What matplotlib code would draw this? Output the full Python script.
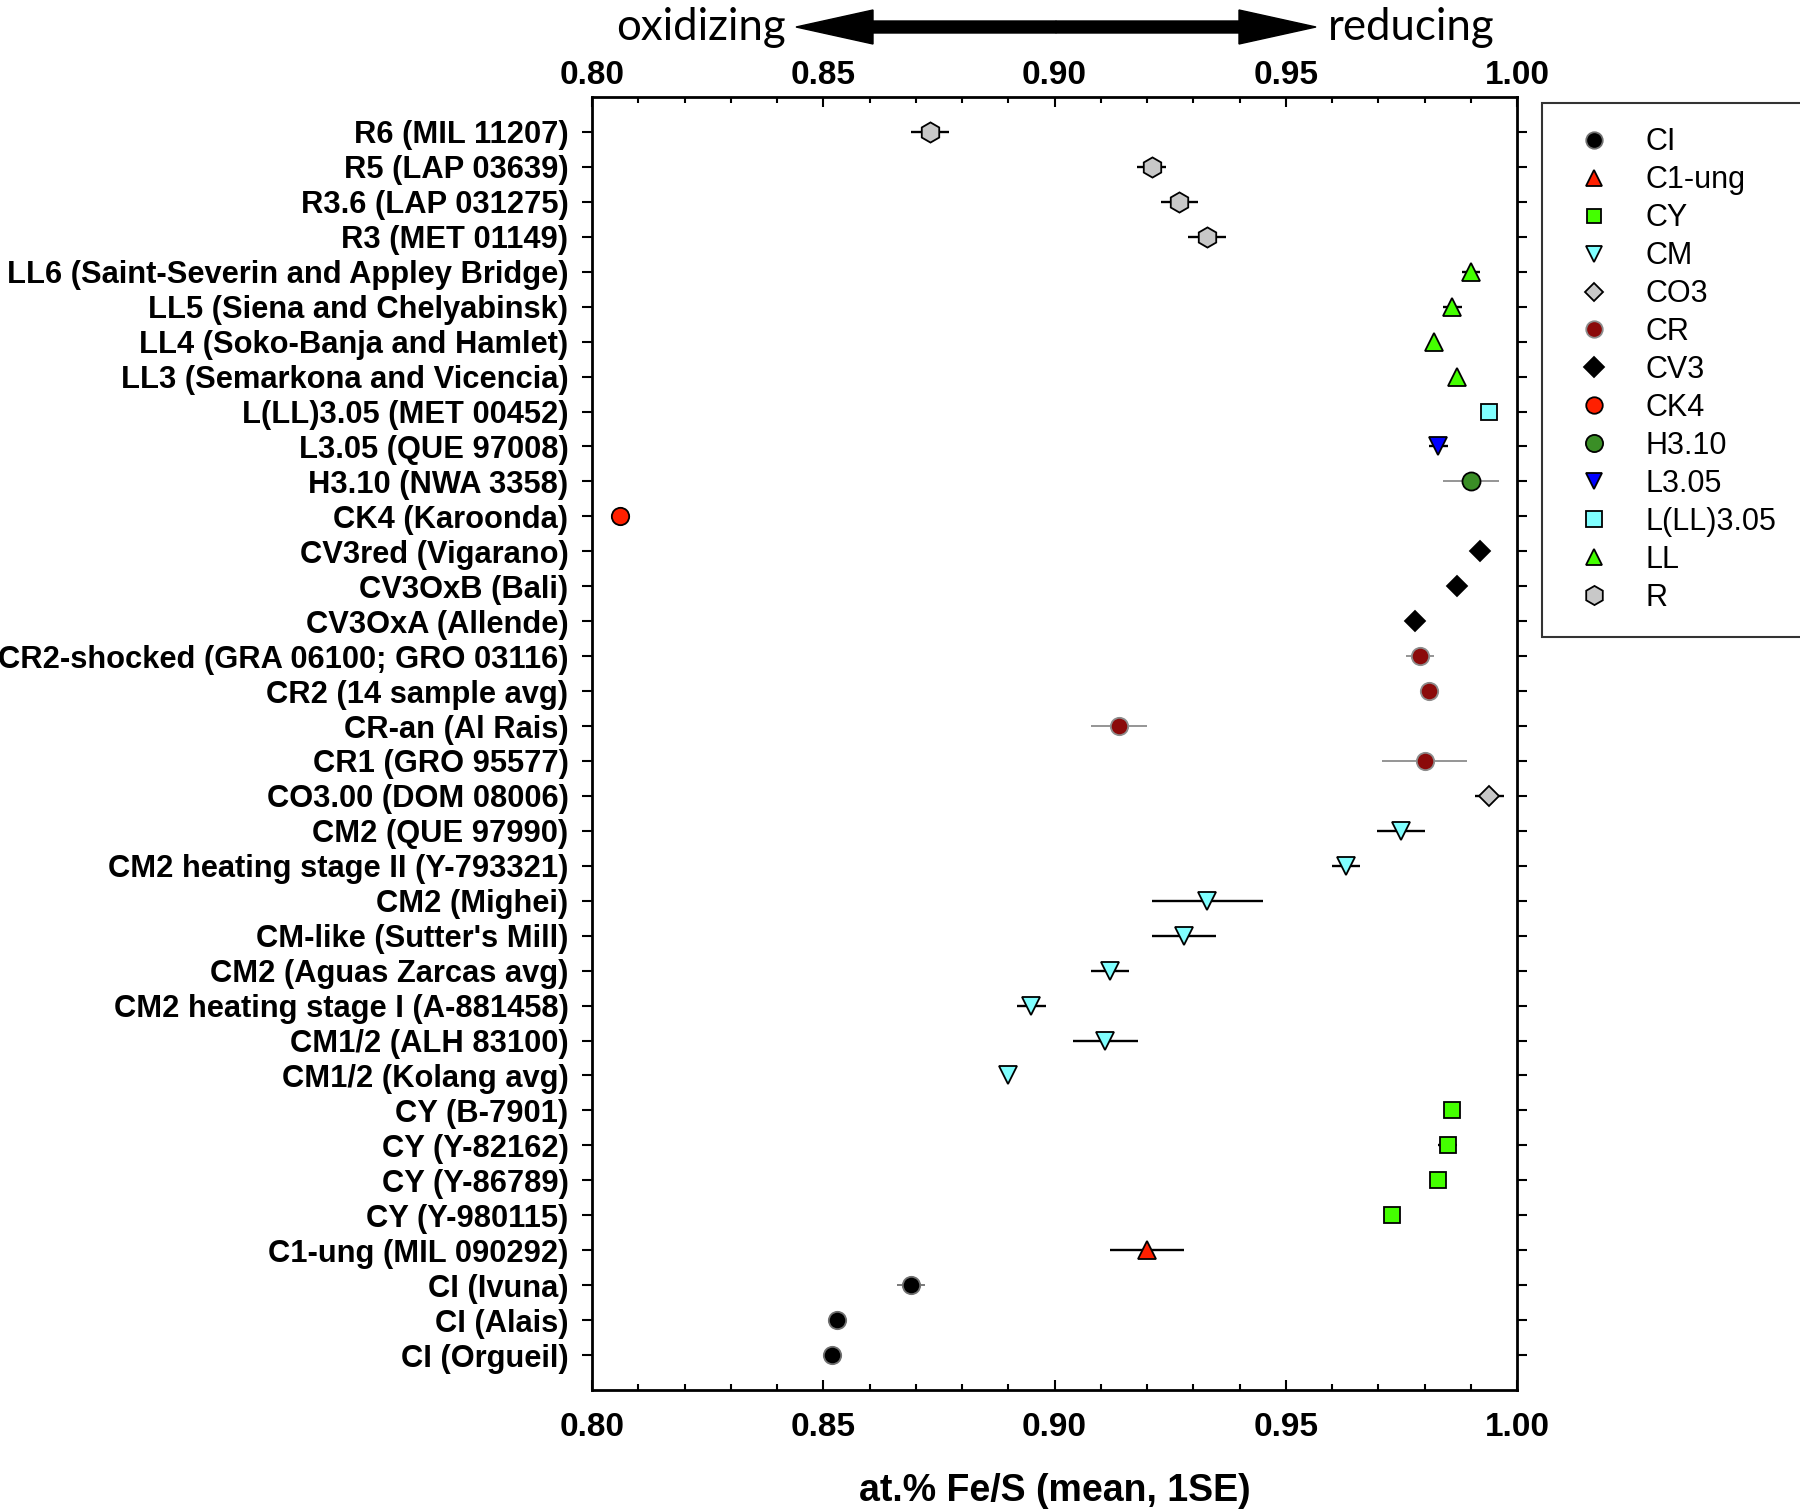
import numpy as np
import matplotlib
matplotlib.use("Agg")
import matplotlib.pyplot as plt
from matplotlib.patches import FancyArrow
from matplotlib.ticker import MultipleLocator

plt.rcParams['font.family'] = ['Liberation Sans', 'DejaVu Sans']

# -- data: one row per meteorite, listed top to bottom --
labels = [
    "R6 (MIL 11207)", "R5 (LAP 03639)", "R3.6 (LAP 031275)", "R3 (MET 01149)",
    "LL6 (Saint-Severin and Appley Bridge)", "LL5 (Siena and Chelyabinsk)",
    "LL4 (Soko-Banja and Hamlet)", "LL3 (Semarkona and Vicencia)",
    "L(LL)3.05 (MET 00452)", "L3.05 (QUE 97008)", "H3.10 (NWA 3358)",
    "CK4 (Karoonda)", "CV3red (Vigarano)", "CV3OxB (Bali)", "CV3OxA (Allende)",
    "CR2-shocked (GRA 06100; GRO 03116)", "CR2 (14 sample avg)", "CR-an (Al Rais)",
    "CR1 (GRO 95577)", "CO3.00 (DOM 08006)", "CM2 (QUE 97990)",
    "CM2 heating stage II (Y-793321)", "CM2 (Mighei)", "CM-like (Sutter's Mill)",
    "CM2 (Aguas Zarcas avg)", "CM2 heating stage I (A-881458)", "CM1/2 (ALH 83100)",
    "CM1/2 (Kolang avg)", "CY (B-7901)", "CY (Y-82162)", "CY (Y-86789)",
    "CY (Y-980115)", "C1-ung (MIL 090292)", "CI (Ivuna)", "CI (Alais)", "CI (Orgueil)",
]
fe_s = [
    0.873, 0.921, 0.927, 0.933,
    0.990, 0.986, 0.982, 0.987,
    0.994, 0.983, 0.990,
    0.806, 0.992, 0.987, 0.978,
    0.979, 0.981, 0.914, 0.980, 0.994,
    0.975, 0.963, 0.933, 0.928, 0.912, 0.895, 0.911, 0.890,
    0.986, 0.985, 0.983, 0.973,
    0.920, 0.869, 0.853, 0.852,
]
fe_s_se = [
    0.0041, 0.0031, 0.0040, 0.0041,
    0.0020, 0.0020, 0.0, 0.0,
    0.0, 0.0020, 0.0061,
    0.0, 0.0, 0.0, 0.0,
    0.0031, 0.0, 0.0061, 0.0091, 0.0031,
    0.0052, 0.0030, 0.0120, 0.0070, 0.0041, 0.0032, 0.0071, 0.0,
    0.0, 0.0020, 0.0, 0.0,
    0.0081, 0.0030, 0.0, 0.0,
]
groups = [
    "R", "R", "R", "R",
    "LL", "LL", "LL", "LL",
    "L(LL)3.05", "L3.05", "H3.10",
    "CK4", "CV3", "CV3", "CV3",
    "CR", "CR", "CR", "CR", "CO3",
    "CM", "CM", "CM", "CM", "CM", "CM", "CM", "CM",
    "CY", "CY", "CY", "CY",
    "C1-ung", "CI", "CI", "CI",
]
legend_order = ["CI", "C1-ung", "CY", "CM", "CO3", "CR", "CV3", "CK4",
                "H3.10", "L3.05", "L(LL)3.05", "LL", "R"]
xticks = [0.80, 0.85, 0.90, 0.95, 1.00]
xticklabels = ["0.80", "0.85", "0.90", "0.95", "1.00"]

# marker, face, edge, marker size, error bar colour
styles = {
    "CI":        ("o", "#000000", "#707070", 12.5, "#707070"),
    "C1-ung":    ("^", "#ff2000", "#000000", 12.5, "#000000"),
    "CY":        ("s", "#44ff00", "#000000", 11,   "#000000"),
    "CM":        ("v", "#80ffff", "#000000", 12.5, "#000000"),
    "CO3":       ("D", "#c8c8c8", "#000000", 10,   "#000000"),
    "CR":        ("o", "#8b0a0a", "#8c8c8c", 12.5, "#8c8c8c"),
    "CV3":       ("D", "#000000", "#000000", 10.5, "#000000"),
    "CK4":       ("o", "#ff2000", "#000000", 12.5, "#000000"),
    "H3.10":     ("o", "#3a8e26", "#000000", 13,   "#8c8c8c"),
    "L3.05":     ("v", "#0000ff", "#000000", 12.5, "#000000"),
    "L(LL)3.05": ("s", "#80ffff", "#000000", 11.5, "#000000"),
    "LL":        ("^", "#44ff00", "#000000", 12.5, "#000000"),
    "R":         ("h", "#c8c8c8", "#000000", 14.5, "#000000"),
}

n = len(labels)
ypos = np.arange(n, 0, -1)
fe_s = np.array(fe_s)
fe_s_se = np.array(fe_s_se)
groups = np.array(groups)

fig = plt.figure(figsize=(18, 15.09), dpi=100)
ax = fig.add_axes([592 / 1800, 119 / 1509, 925 / 1800, 1293 / 1509])

handles = []
for g in legend_order:
    m, fc, ec, ms, ecol = styles[g]
    sel = groups == g
    has_err = sel & (fe_s_se > 0)
    if has_err.any():
        ax.errorbar(fe_s[has_err], ypos[has_err], xerr=fe_s_se[has_err], fmt="none",
                    ecolor=ecol, elinewidth=1.7 if ecol == "#000000" else 1.3,
                    capsize=0, zorder=2)
    h, = ax.plot(fe_s[sel], ypos[sel], linestyle="none", marker=m, markersize=ms,
                 markerfacecolor=fc, markeredgecolor=ec, markeredgewidth=1.3,
                 label=g, zorder=3)
    handles.append(h)

ax.set_xlim(0.80, 1.00)
ax.set_ylim(0, n + 1)
ax.set_yticks(ypos)
ax.set_yticklabels(labels, fontsize=22.2, fontweight="bold")

ax.xaxis.set_minor_locator(MultipleLocator(0.01))
ax.set_xticks(xticks)
ax.set_xticklabels(xticklabels, fontsize=24, fontweight="bold")

ax.tick_params(axis="x", which="both", direction="in", top=True, bottom=True,
               labeltop=False, labelbottom=True, width=1.5, pad=15.5)
ax.tick_params(axis="x", which="major", length=7.5)
ax.tick_params(axis="x", which="minor", length=4.5)
ax.tick_params(axis="y", direction="out", left=True, right=True, length=7,
               width=1.5, pad=10)
for sp in ax.spines.values():
    sp.set_linewidth(2)

# top tick labels on their own axis so they can sit closer to the frame
secax = ax.secondary_xaxis("top")
secax.set_xticks(xticks)
secax.set_xticklabels(xticklabels, fontsize=24, fontweight="bold")
secax.tick_params(axis="x", length=0, pad=4.5)
secax.spines["top"].set_visible(False)

ax.set_xlabel("at.% Fe/S (mean, 1SE)", fontsize=27, fontweight="bold", labelpad=22)

leg = ax.legend(handles=handles, loc="upper left",
                bbox_to_anchor=(1542 / 1800, 1 - 103 / 1509, 0.16, 0.0),
                bbox_transform=fig.transFigure, mode="expand", borderaxespad=0,
                fontsize=22, frameon=True, fancybox=False, edgecolor="black",
                handlelength=1.8, handletextpad=0.8, borderpad=0.8,
                labelspacing=0.26, markerscale=0.95)
leg.get_frame().set_linewidth(1.5)

# oxidizing <-> reducing arrow above the axis (figure inches)
tr = fig.dpi_scale_trans
ya = (1509 - 27) / 100
xc = (796 + 1316) / 2 / 100
for x_end in (7.96, 13.16):
    fig.patches.append(FancyArrow(xc, ya, x_end - xc, 0, width=0.12, head_width=0.34,
                                  head_length=0.77, length_includes_head=True,
                                  color="black", transform=tr, figure=fig))
fig.text(7.86, ya - 0.01, "oxidizing", transform=tr, ha="right", va="center",
         fontsize=31.5, family=["Lato", "DejaVu Sans"])
fig.text(13.28, ya - 0.01, "reducing", transform=tr, ha="left", va="center",
         fontsize=31.5, family=["Lato", "DejaVu Sans"])

fig.savefig("out.png", dpi=100)
